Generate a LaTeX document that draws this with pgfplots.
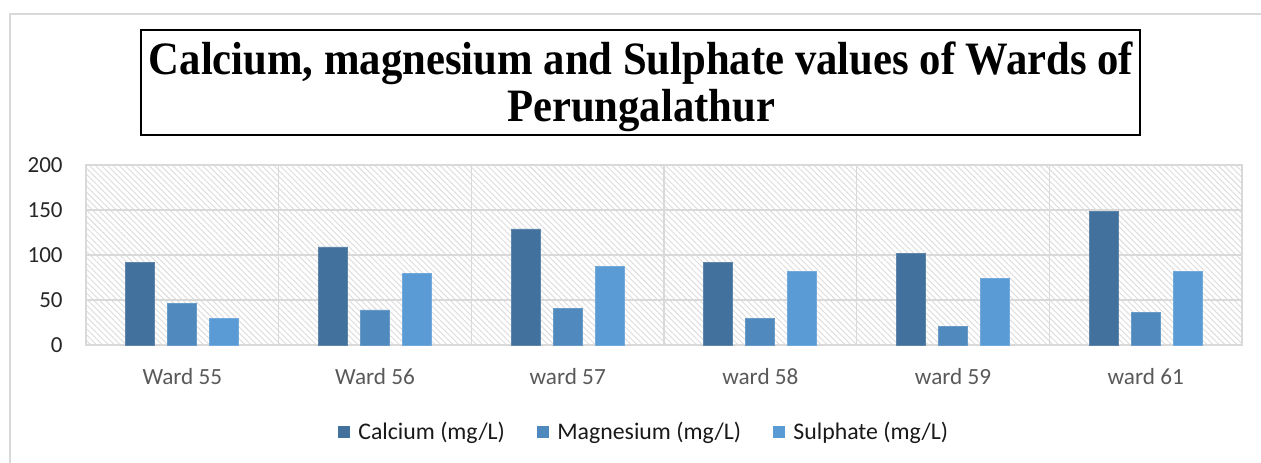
\documentclass[border=0pt]{standalone}
\usepackage{fontspec}
\setmainfont{Carlito}
\newfontfamily\titlefont[FakeStretch=0.92]{Liberation Serif}
\usepackage{pgfplots}
\pgfplotsset{compat=1.18}
\usetikzlibrary{patterns.meta}
\definecolor{ca}{HTML}{41719C}
\definecolor{mg}{HTML}{4F89BE}
\definecolor{su}{HTML}{5B9BD5}
\definecolor{gridc}{HTML}{D9D9D9}
\definecolor{hatch}{HTML}{DCDCDC}
\definecolor{lab}{HTML}{595959}
\begin{document}
\begin{tikzpicture}[x=0.5pt,y=0.5pt]
\path[use as bounding box] (0,0) rectangle (1261,462);
\draw[gridc, line width=1pt] (10,-10) -- (10,448) -- (1280,448);
\draw[black, line width=1.2pt] (141,327) rectangle (1140,432);
\node[font=\titlefont\bfseries\fontsize{23.2}{24}\selectfont, anchor=base, inner sep=0pt] at (641,388) {Calcium, magnesium and Sulphate values of Wards of};
\node[font=\titlefont\bfseries\fontsize{23.2}{24}\selectfont, anchor=base, inner sep=0pt] at (641,341) {Perungalathur};
\begin{axis}[
  at={(43pt,58.5pt)}, anchor=south west, scale only axis,
  width=578pt, height=90pt,
  ymin=0, ymax=200, ytick={0,50,...,200},
  xmin=-0.5, xmax=5.5, xtick={0,...,5},
  xticklabels={Ward 55,Ward 56,ward 57,ward 58,ward 59,ward 61},
  minor xtick={0.5,1.5,...,4.5},
  ymajorgrids, xminorgrids,
  major grid style={gridc, line width=0.8pt},
  minor grid style={gridc, line width=0.8pt},
  axis line style={gridc, line width=0.8pt},
  major tick length=0pt, minor tick length=0pt,
  tick style={draw=none},
  ybar=6.5pt, bar width=14.5pt,
  axis background/.style={fill=white, postaction={pattern={Lines[angle=-45,distance=2.1pt,line width=0.45pt]}, pattern color=hatch}},
  /pgf/number format/assume math mode=true,
  yticklabel style={font=\fontsize{11.5}{12}\selectfont, text=black!85, anchor=east, inner sep=0pt, xshift=-11.5pt},
  xticklabel style={font=\fontsize{11.6}{12}\selectfont, text=lab, anchor=base, inner sep=0pt, yshift=-19.5pt},
  legend style={at={(0.4836,-0.483)}, anchor=center, draw=none, fill=none,
    font=\fontsize{11.9}{12}\selectfont, text=black!90,
    /tikz/every even column/.append style={column sep=14pt}},
  legend columns=3,
  legend image code/.code={\fill[#1, draw=none] (0pt,-3pt) rectangle (6pt,3pt); \path (8pt,0pt);},
]
\addplot[fill=ca, draw=ca!85!white, line width=0.4pt] coordinates {(0,92) (1,109) (2,129) (3,92) (4,102) (5,148)};
\addplot[fill=mg, draw=mg!85!white, line width=0.4pt] coordinates {(0,46) (1,39) (2,41) (3,30) (4,21) (5,36)};
\addplot[fill=su, draw=su!85!white, line width=0.4pt] coordinates {(0,30) (1,80) (2,87) (3,82) (4,74) (5,82)};
\legend{Calcium (mg/L),Magnesium (mg/L),Sulphate (mg/L)}
\end{axis}
\end{tikzpicture}
\end{document}
